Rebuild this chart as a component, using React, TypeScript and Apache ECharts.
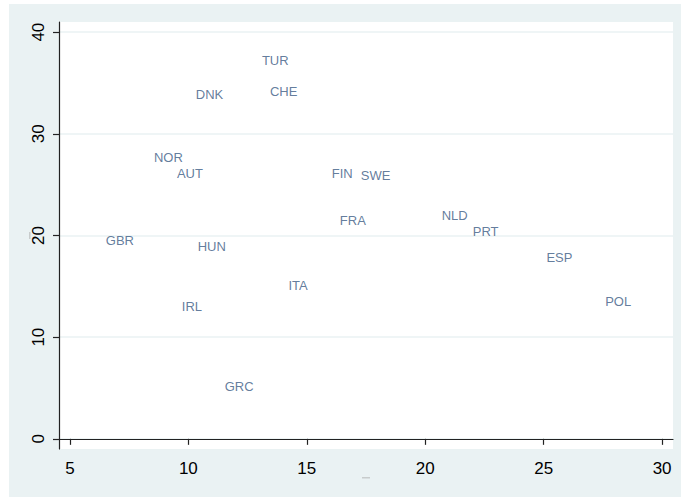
import React, { useEffect, useRef } from "react";
import * as echarts from "echarts";

const countries = ["TUR", "DNK", "CHE", "NOR", "AUT", "GBR", "HUN", "FIN", "SWE", "FRA", "NLD", "PRT", "ESP", "POL", "ITA", "IRL", "GRC"];
const xValues = [12.98, 10.19, 13.32, 8.42, 9.39, 6.39, 10.27, 15.93, 17.15, 16.27, 20.57, 21.88, 24.99, 27.47, 14.1, 9.6, 11.41];
const yValues = [37.25, 33.9, 34.2, 27.65, 26.1, 19.5, 18.87, 26.05, 25.95, 21.43, 21.92, 20.41, 17.85, 13.49, 15.13, 13.06, 5.12];
const xTicks = [5, 10, 15, 20, 25, 30];
const yTicks = [0, 10, 20, 30, 40];

export default function App() {
  const ref = useRef<HTMLDivElement>(null);
  useEffect(() => {
    if (!ref.current) return;
    const chart = echarts.init(ref.current, null, { renderer: "svg" });
    const data = countries.map((c, i) => [xValues[i], yValues[i], c]);
    chart.setOption({
      animation: false,
      backgroundColor: "#EAF2F3",
      textStyle: { fontFamily: "Liberation Sans, Arial, sans-serif" },
      grid: {
        left: 50,
        top: 18,
        right: 8,
        bottom: 48,
        show: true,
        backgroundColor: "#ffffff",
        borderWidth: 0,
      },
      xAxis: {
        type: "value",
        min: 4.54,
        max: 30.46,
        axisLine: { show: true, lineStyle: { color: "#222", width: 1.2 } },
        axisTick: { show: true, length: 6, lineStyle: { color: "#222", width: 1.2 }, customValues: xTicks },
        axisLabel: { color: "#000", fontSize: 17, margin: 11, customValues: xTicks },
        splitLine: { show: false },
      },
      yAxis: {
        type: "value",
        min: -1,
        max: 41,
        axisLine: { show: true, lineStyle: { color: "#222", width: 1.2 } },
        axisTick: { show: true, length: 6, lineStyle: { color: "#222", width: 1.2 }, customValues: yTicks },
        axisLabel: { color: "#000", fontSize: 17, margin: 12, rotate: 90, customValues: yTicks },
        splitLine: { show: true, lineStyle: { color: "#EAF2F3", width: 1.5 } },
      },
      graphic: [
        { type: "rect", left: 353, top: 473, shape: { width: 8, height: 1.5 }, style: { fill: "#c8cccc" } },
        { type: "rect", left: 20, top: 228, shape: { width: 1.5, height: 7 }, style: { fill: "#c8cccc" } },
      ],
      series: [
        {
          type: "scatter",
          data,
          symbolSize: 0,
          label: {
            show: true,
            position: "right",
            distance: 3,
            formatter: (p: any) => p.data[2],
            color: "#3b5b84",
            fontSize: 13,
            fontFamily: "Liberation Sans, Arial, sans-serif",
          },
        },
      ],
    });
    return () => chart.dispose();
  }, []);
  return (
    <div
      ref={ref}
      style={{ position: "fixed", left: 9, top: 4, width: 672, height: 493 }}
    />
  );
}
